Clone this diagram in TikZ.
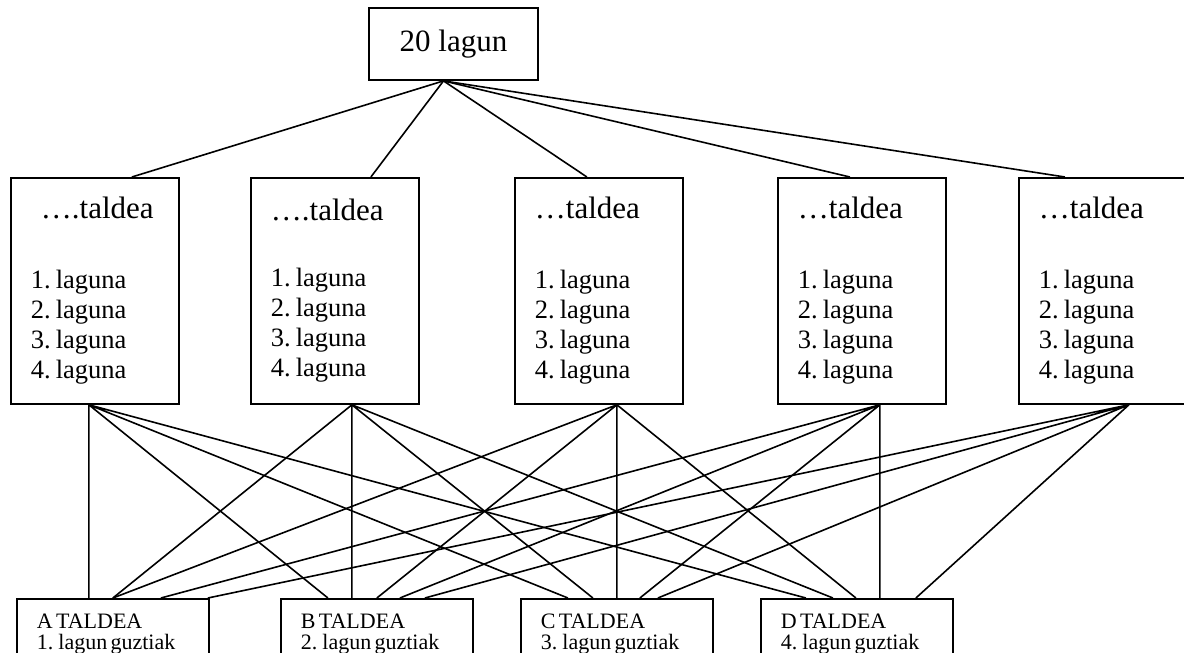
\documentclass[tikz,border=0pt]{standalone}
\usepackage{fontspec}
\setmainfont{Liberation Serif}
\usepackage{tikz}

\newcommand{\titlesize}{\fontsize{31}{36}\selectfont}
\newcommand{\listsize}{\fontsize{26.5}{30}\selectfont}
\newcommand{\teamsize}{\fontsize{22}{21}\selectfont}

\begin{document}
\begin{tikzpicture}[x=1pt, y=-1pt,
    groupbox/.style={draw, line width=1.8pt, anchor=north west, minimum height=226pt,
        inner xsep=20pt, inner ysep=0pt, text width=128pt, align=left},
    teambox/.style={draw, line width=1.8pt, anchor=north west, minimum height=70pt,
        inner xsep=20pt, inner ysep=0pt, text width=152pt, align=left},
    link/.style={line width=1.6pt}]
    \useasboundingbox (0,0) rectangle (1184,653);

    % Top box
    \node[draw, line width=1.8pt, minimum width=169pt, minimum height=72pt, inner sep=0pt]
        (top) at (453.5,44) {\titlesize 20 lagun};

    % Groups
    \node[groupbox] (g1) at (10,177) {{\titlesize\hspace*{10pt}….taldea\par}\vspace{40pt}%
        {\listsize 1. laguna\\2. laguna\\3. laguna\\4. laguna\par}};
    \node[groupbox] (g2) at (250,177) {{\titlesize ….taldea\par}\vspace{36pt}%
        {\listsize 1. laguna\\2. laguna\\3. laguna\\4. laguna\par}};
    \node[groupbox] (g3) at (514,177) {{\titlesize …taldea\par}\vspace{40pt}%
        {\listsize 1. laguna\\2. laguna\\3. laguna\\4. laguna\par}};
    \node[groupbox] (g4) at (777,177) {{\titlesize …taldea\par}\vspace{40pt}%
        {\listsize 1. laguna\\2. laguna\\3. laguna\\4. laguna\par}};
    \node[groupbox] (g5) at (1018,177) {{\titlesize …taldea\par}\vspace{40pt}%
        {\listsize 1. laguna\\2. laguna\\3. laguna\\4. laguna\par}};

    % Teams
    \node[teambox] (ta) at (16,598) {\teamsize A TALDEA\\1. lagun guztiak\par};
    \node[teambox] (tb) at (280,598) {\teamsize B TALDEA\\2. lagun guztiak\par};
    \node[teambox] (tc) at (520,598) {\teamsize C TALDEA\\3. lagun guztiak\par};
    \node[teambox] (td) at (760,598) {\teamsize D TALDEA\\4. lagun guztiak\par};

    % Top box to groups
    \coordinate (hub) at ([xshift=-10pt]top.south);
    \draw[link] (hub) -- ([xshift=37pt]g1.north);
    \draw[link] (hub) -- ([xshift=36pt]g2.north);
    \draw[link] (hub) -- ([xshift=-12pt]g3.north);
    \draw[link] (hub) -- ([xshift=-12pt]g4.north);
    \draw[link] (hub) -- ([xshift=-38pt]g5.north);

    % Groups to teams
    \coordinate (g1b) at ([xshift=-6pt]g1.south);
    \coordinate (g2b) at ([xshift=17pt]g2.south);
    \coordinate (g3b) at ([xshift=18pt]g3.south);
    \coordinate (g4b) at ([xshift=18pt]g4.south);
    \coordinate (g5b) at ([xshift=26pt]g5.south);
    \draw[link] (g1b) -- ([xshift=-24pt]ta.north) (g1b) -- ([xshift=-49pt]tb.north)
        (g1b) -- ([xshift=-49pt]tc.north) (g1b) -- ([xshift=-51pt]td.north);
    \draw[link] (g2b) -- (ta.north) (g2b) -- ([xshift=-25pt]tb.north)
        (g2b) -- ([xshift=-24pt]tc.north) (g2b) -- ([xshift=-24pt]td.north);
    \draw[link] (g3b) -- (ta.north) (g3b) -- (tb.north)
        (g3b) -- (tc.north) (g3b) -- ([xshift=-1pt]td.north);
    \draw[link] (g4b) -- ([xshift=48pt]ta.north) (g4b) -- ([xshift=23pt]tb.north)
        (g4b) -- ([xshift=23pt]tc.north) (g4b) -- ([xshift=23pt]td.north);
    \draw[link] (g5b) -- ([xshift=95pt]ta.north) (g5b) -- ([xshift=48pt]tb.north)
        (g5b) -- ([xshift=41pt]tc.north) (g5b) -- ([xshift=59pt]td.north);
\end{tikzpicture}
\end{document}
